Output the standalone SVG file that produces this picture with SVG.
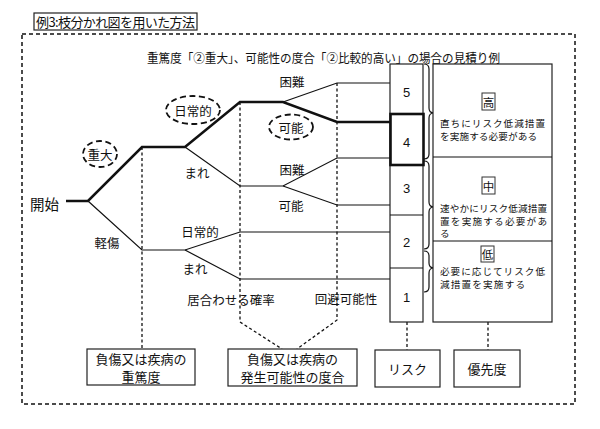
<svg xmlns="http://www.w3.org/2000/svg" width="600" height="429" viewBox="0 0 600 429">
<style>
text{font-family:"Noto Sans CJK JP","Liberation Sans",sans-serif;fill:#111;dominant-baseline:central}
.t{font-size:12.5px}
.c{text-anchor:middle}
.s{font-size:9.6px}
.n{font-family:"Liberation Sans",sans-serif;font-size:13px;text-anchor:middle}
.thin{fill:none;stroke:#111;stroke-width:1.2}
.thick{fill:none;stroke:#111;stroke-width:2.6;stroke-linejoin:miter}
.dash{fill:none;stroke:#111;stroke-width:1.3;stroke-dasharray:3,2.5}
.box{fill:#fff;stroke:#222;stroke-width:1.2}
.ell{fill:none;stroke:#111;stroke-width:1.8;stroke-dasharray:6,3.5}
.sq{fill:#fff;stroke:#333;stroke-width:1}
</style>
<rect width="600" height="429" fill="#fff"/>

<g id="title">
<rect x="34" y="13" width="163" height="17" class="box"/>
<text x="36" y="21.5" style="font-size:13px" textLength="159">例3:枝分かれ図を用いた方法</text>
</g>

<rect id="frame" x="22" y="34" width="553" height="370" fill="none" stroke="#111" stroke-width="1.5" stroke-dasharray="4,3"/>

<text id="subtitle" x="147" y="57" class="t" textLength="353" lengthAdjust="spacingAndGlyphs">重篤度「②重大」、可能性の度合「②比較的高い」の場合の見積り例</text>

<g id="connectors">
<!-- dashed guides -->
<path class="dash" d="M142 147V349"/>
<path class="dash" d="M240 102V322L282 349"/>
<path class="dash" d="M337 83V320L297 349"/>
<path class="dash" d="M407 322V350"/>
<path class="dash" d="M488 322V350"/>
<!-- thin branches -->
<path class="thin" d="M88 201L142 250H185L240 232H390"/>
<path class="thin" d="M185 250L240 279H390"/>
<path class="thin" d="M185 147L240 186H283L337 158H390"/>
<path class="thin" d="M283 186L337 205H390"/>
<path class="thin" d="M283 102L337 83H390"/>
<!-- highlighted path -->
<path class="thick" d="M66 201H88L142 147H185L240 102H283L337 122H390"/>
<!-- braces -->
<path class="thin" d="M424 64Q429 64 429 69V108Q429 113 434 113Q429 113 429 118V154Q429 159 424 159"/>
<path class="thin" d="M424 161Q429 161 429 166V202Q429 207 434 207Q429 207 429 212V244Q429 249 424 249"/>
<path class="thin" d="M424 251Q429 251 429 256V263Q429 268 434 268Q429 268 429 273V287Q429 292 424 292"/>
</g>

<g id="start"><text x="30" y="203" style="font-size:14.5px">開始</text></g>

<g id="label-juudai">
<ellipse cx="100" cy="154" rx="17" ry="13" class="ell"/>
<text x="100" y="154" class="t c">重大</text>
</g>
<g id="label-keishou"><text x="107" y="242" class="t c">軽傷</text></g>

<g id="label-nichijou1">
<ellipse cx="193" cy="110" rx="27" ry="14" class="ell"/>
<text x="193" y="110" class="t c">日常的</text>
</g>
<g id="label-mare1"><text x="197" y="172" class="t c">まれ</text></g>
<g id="label-nichijou2"><text x="200" y="231" class="t c">日常的</text></g>
<g id="label-mare2"><text x="195" y="268" class="t c">まれ</text></g>

<g id="label-konnan1"><text x="292" y="81" class="t c">困難</text></g>
<g id="label-kanou1">
<ellipse cx="291" cy="127" rx="22" ry="12.5" class="ell"/>
<text x="291" y="127" class="t c">可能</text>
</g>
<g id="label-konnan2"><text x="292" y="169" class="t c">困難</text></g>
<g id="label-kanou2"><text x="291" y="205" class="t c">可能</text></g>

<g id="label-iawase"><text x="231" y="299" class="t c">居合わせる確率</text></g>
<g id="label-kaihi"><text x="346" y="298" class="t c">回避可能性</text></g>

<g id="risk">
<rect x="390" y="64" width="33" height="258" class="box"/>
<path class="thin" d="M390 215H423M390 268H423"/>
<rect x="390.5" y="114" width="33" height="51" fill="#fff" stroke="#111" stroke-width="2.6"/>
<text x="406.5" y="92" class="n">5</text>
<text x="406.5" y="142" class="n">4</text>
<text x="406.5" y="188" class="n">3</text>
<text x="406.5" y="242" class="n">2</text>
<text x="406.5" y="297" class="n">1</text>
</g>

<g id="priority">
<rect x="433" y="64" width="119" height="258" class="box"/>
<path class="thin" d="M433 157H552M433 241H552"/>
<rect x="482" y="93" width="13" height="17" class="sq"/>
<text x="488.5" y="101.5" style="font-size:11.5px" class="c">高</text>
<text x="440" y="123" class="s" textLength="105">直ちにリスク低減措置</text>
<text x="440" y="135.5" class="s" textLength="97">を実施する必要がある</text>
<rect x="482" y="177" width="13" height="17" class="sq"/>
<text x="488.5" y="185.5" style="font-size:11.5px" class="c">中</text>
<text x="440" y="208" class="s" textLength="107">速やかにリスク低減措置</text>
<text x="440" y="220.5" class="s" textLength="107">置を実施する必要があ</text>
<text x="440" y="233" class="s">る</text>
<rect x="481" y="246" width="13" height="16" class="sq"/>
<text x="487.5" y="254" style="font-size:11.5px" class="c">低</text>
<text x="440" y="271" class="s" textLength="105">必要に応じてリスク低</text>
<text x="440" y="283.5" class="s" textLength="85">減措置を実施する</text>
</g>

<g id="box-severity">
<rect x="87" y="349" width="108" height="36" class="box"/>
<text x="141" y="358.5" class="t c" style="font-size:13px">負傷又は疾病の</text>
<text x="141" y="376" class="t c" style="font-size:13px">重篤度</text>
</g>
<g id="box-likelihood">
<rect x="228" y="349" width="129" height="37" class="box"/>
<text x="292.5" y="358.5" class="t c" style="font-size:13px">負傷又は疾病の</text>
<text x="292.5" y="376" class="t c" style="font-size:13px">発生可能性の度合</text>
</g>
<g id="box-risk">
<rect x="375" y="350" width="65" height="37" class="box"/>
<text x="407.5" y="368" class="t c" style="font-size:13px">リスク</text>
</g>
<g id="box-prio">
<rect x="454" y="350" width="66" height="37" class="box"/>
<text x="487" y="368" class="t c" style="font-size:13px">優先度</text>
</g>
</svg>
